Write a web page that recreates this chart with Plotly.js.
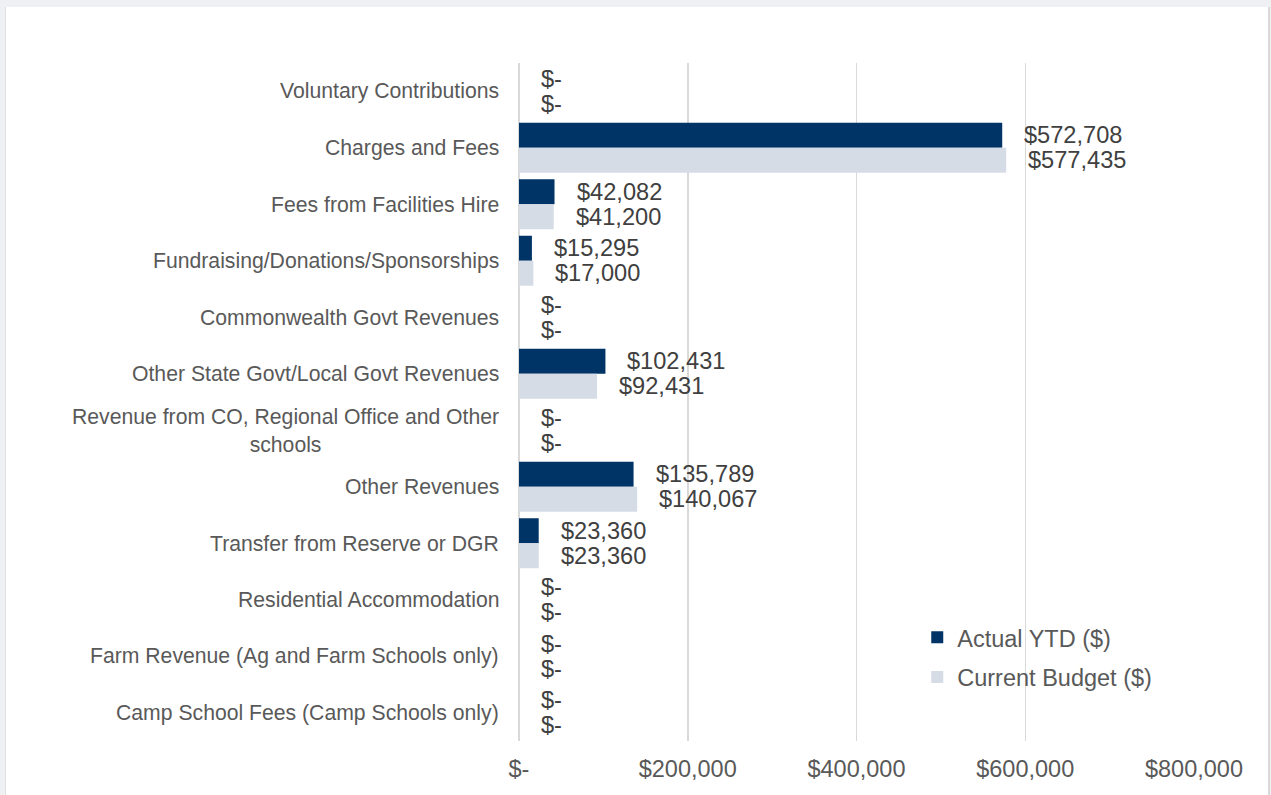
<!DOCTYPE html>
<html>
<head>
<meta charset="utf-8">
<script src="https://cdn.plot.ly/plotly-3.0.1.min.js"></script>
<style>
  html, body { margin: 0; padding: 0; background: #eef0f4; width: 1271px; height: 795px; overflow: hidden; }
  #frame { position: absolute; left: 5px; top: 7px; width: 1262px; height: 788px; background: #ffffff; border-left: 1px solid #e0e0e0; border-right: 2px solid #d9d9d9; box-sizing: content-box; }
  #chart { width: 1262px; height: 788px; }
</style>
</head>
<body>
<div id="frame"><div id="chart"></div></div>
<script>
const categories = [
  "Voluntary Contributions",
  "Charges and Fees",
  "Fees from Facilities Hire",
  "Fundraising/Donations/Sponsorships",
  "Commonwealth Govt Revenues",
  "Other State Govt/Local Govt Revenues",
  "Revenue from CO, Regional Office and Other<br>schools",
  "Other Revenues",
  "Transfer from Reserve or DGR",
  "Residential Accommodation",
  "Farm Revenue (Ag and Farm Schools only)",
  "Camp School Fees (Camp Schools only)"
];
const actualYTD = [0, 572708, 42082, 15295, 0, 102431, 0, 135789, 23360, 0, 0, 0];
const currentBudget = [0, 577435, 41200, 17000, 0, 92431, 0, 140067, 23360, 0, 0, 0];
const seriesNames = ["Actual YTD ($)", "Current Budget ($)"];
const tickValues = [0, 200000, 400000, 600000, 800000];
const tickLabels = ["$-", "$200,000", "$400,000", "$600,000", "$800,000"];

const fmt = v => v === 0 ? "$-" : "$" + v.toLocaleString("en-US");
const FONT = "Liberation Sans, Arial, sans-serif";

const traces = [
  { type: "bar", orientation: "h", name: seriesNames[0], y: categories, x: actualYTD,
    marker: { color: "#003366" }, legendgroup: "a", hoverinfo: "x+y" },
  { type: "bar", orientation: "h", name: seriesNames[1], y: categories, x: currentBudget,
    marker: { color: "#d6dce5" }, legendgroup: "b", hoverinfo: "x+y" }
];

const annotations = [];
categories.forEach((c, i) => {
  annotations.push({ xref: "paper", x: 0, xshift: -18, yref: "y", y: c, text: c,
    xanchor: "right", yanchor: "middle", align: "center", showarrow: false,
    font: { family: FONT, size: 21.2, color: "#595959" } });
  [[actualYTD, 12.5], [currentBudget, -12.5]].forEach(([arr, ys]) => {
    annotations.push({ xref: "x", x: arr[i], xshift: 20, yref: "y", y: c, yshift: ys,
      text: fmt(arr[i]), xanchor: "left", yanchor: "middle", showarrow: false,
      font: { family: FONT, size: 23.6, color: "#404040" } });
  });
});

const layout = {
  width: 1262, height: 788,
  margin: { l: 513, r: 74, t: 56, b: 54 },
  paper_bgcolor: "#ffffff", plot_bgcolor: "#ffffff",
  barmode: "group", bargap: 0.115, bargroupgap: 0,
  font: { family: FONT, color: "#595959" },
  xaxis: {
    range: [0, 800000], tickvals: tickValues, ticktext: tickLabels,
    showgrid: true, gridcolor: "#d9d9d9", gridwidth: 1.5,
    zeroline: true, zerolinecolor: "#d9d9d9", zerolinewidth: 1.5,
    showline: false, ticks: "", ticklabelstandoff: 11,
    tickfont: { family: FONT, size: 23.5, color: "#595959" }, fixedrange: true
  },
  yaxis: {
    type: "category", autorange: "reversed", showticklabels: false,
    showgrid: false, zeroline: false, showline: false, ticks: "", fixedrange: true
  },
  showlegend: true,
  legend: {
    x: 0.59, y: 0.185, xanchor: "left", yanchor: "top",
    traceorder: "grouped", tracegroupgap: 6,
    font: { family: FONT, size: 23.5, color: "#595959" },
    bgcolor: "rgba(0,0,0,0)"
  },
  annotations: annotations
};

Plotly.newPlot("chart", traces, layout, { displayModeBar: false, staticPlot: true });
</script>
</body>
</html>
